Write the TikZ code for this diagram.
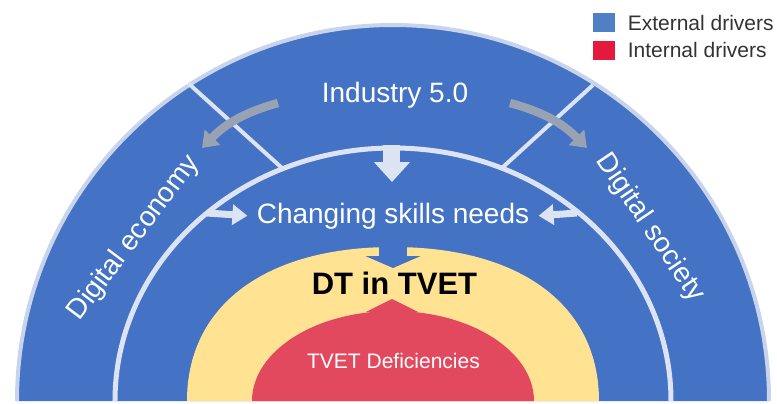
\documentclass[tikz,border=0pt]{standalone}
\usepackage{fontspec}
\setmainfont{Liberation Sans}
\usetikzlibrary{arrows.meta,positioning}

\definecolor{bandblue}{HTML}{4472C4}
\definecolor{rimblue}{HTML}{C8D4EC}
\definecolor{paleline}{HTML}{DCE4F4}
\definecolor{coreyellow}{HTML}{FFE393}
\definecolor{corered}{HTML}{E2495E}
\definecolor{drivegray}{HTML}{99A2B2}
\definecolor{extblue}{HTML}{4F80C6}
\definecolor{intred}{HTML}{E5193F}
\definecolor{keytext}{HTML}{333333}

\begin{document}
\begin{tikzpicture}[x=0.5pt,y=0.5pt,
    ring text/.style={text=white,font=\fontsize{14}{16}\selectfont,inner sep=0pt},
    pale arrow/.style={draw=paleline,line width=3.5pt,-{Triangle[width=10pt,length=7.5pt]}},
    gray arrow/.style={draw=drivegray,line width=4.2pt,-{Triangle[width=10.5pt,length=7.5pt]}},
    key box/.style={minimum width=11pt,minimum height=9.5pt,inner sep=0pt},
    key text/.style={text=keytext,font=\fontsize{10.5}{12}\selectfont,inner sep=0pt}]
  \useasboundingbox (-393,-2) rectangle (384,401);

  % outer band and its rim
  \fill[bandblue] (-376,0) arc[start angle=180,end angle=0,radius=376] -- cycle;
  \draw[rimblue,line width=2pt] (-376,0) arc[start angle=180,end angle=0,radius=376];
  \draw[paleline,line width=2pt] (-205,318) -- (-111,233);
  \draw[paleline,line width=2pt] (200,316) -- (110,234);
  \draw[paleline,line width=2.5pt] (-278,0) arc[start angle=180,end angle=0,x radius=278,y radius=253];

  % core
  \fill[coreyellow] (-206,0) .. controls (-206,95.5) and (-127.7,154) .. (0,154)
                    .. controls (127.7,154) and (206,95.5) .. (206,0) -- cycle;
  \draw[bandblue,line width=14pt,-{Triangle[width=27.5pt,length=6pt]}] (0,168) -- (0,133);
  \fill[corered] (-141,0) arc[start angle=180,end angle=0,x radius=141,y radius=90] -- cycle;
  \draw[corered,line width=13pt,-{Triangle[width=26pt,length=6.5pt]}] (-1,70) -- (-1,102);

  % labels
  \node[ring text,anchor=base] (ind) at (2,299) {Industry 5.0};
  \node[ring text,anchor=base,inner xsep=4.5pt] (skills) at (0,178) {Changing skills needs};
  \node[ring text,rotate=53] (econ) at (-259,163) {Digital economy};
  \node[ring text,rotate=-56] (soc) at (257,173) {Digital society};
  \node[anchor=base,inner sep=0pt,font=\fontsize{15.5}{18}\bfseries] (dt) at (1.5,107) {DT in TVET};
  \node[anchor=base,inner sep=0pt,text=white,font=\fontsize{10.5}{12}\selectfont] (def) at (0.5,33) {TVET Deficiencies};

  % drivers
  \coordinate (ind l) at (-115,298);
  \coordinate (ind r) at (117,298);
  \coordinate (econ in) at (-191,253);
  \coordinate (soc in) at (194,253);
  \coordinate (ring top) at (-1,256);
  \coordinate (ring l) at (-186,188);
  \coordinate (ring r) at (184,188);
  \draw[gray arrow] (ind l) to[bend right=15] (econ in);
  \draw[gray arrow] (ind r) to[bend left=15] (soc in);
  \draw[draw=paleline,line width=8.5pt,-{Triangle[width=17.5pt,length=10pt]}] (ring top) -- (-1,219);
  \draw[pale arrow] (ring l) -- (skills.west);
  \draw[pale arrow] (ring r) -- (skills.east);

  % key
  \node[key box,fill=extblue] (ext key) at (211,378.5) {};
  \node[key box,fill=intred] (int key) at (211,351) {};
  \node[key text,right=6pt of ext key] {External drivers};
  \node[key text,right=6pt of int key] {Internal drivers};
\end{tikzpicture}
\end{document}
